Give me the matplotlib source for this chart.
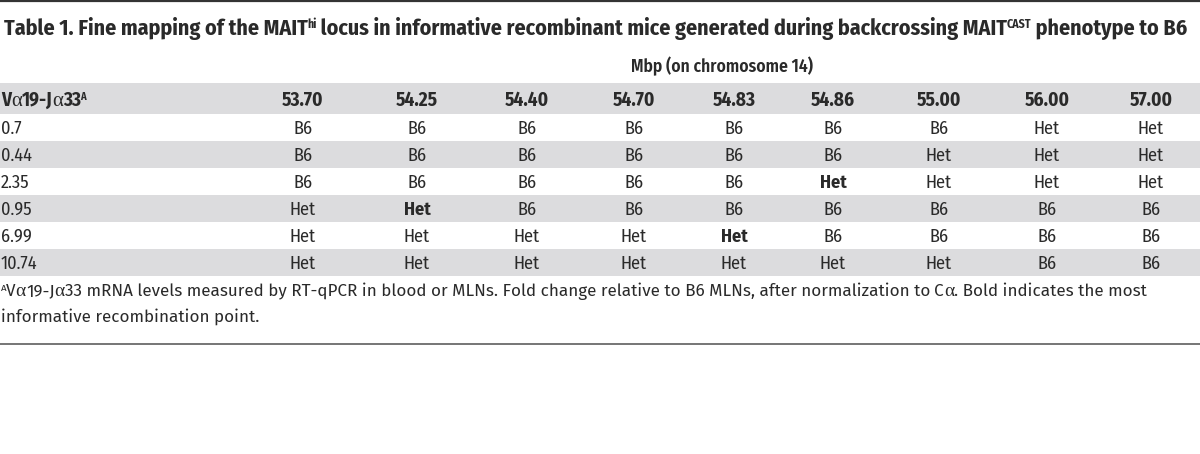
import matplotlib
matplotlib.use("Agg")
import matplotlib.pyplot as plt
from matplotlib.patches import Rectangle

# ---- data ----
positions = ["53.70", "54.25", "54.40", "54.70", "54.83", "54.86", "55.00", "56.00", "57.00"]
va_levels = ["0.7", "0.44", "2.35", "0.95", "6.99", "10.74"]
row_0_7 = ["B6", "B6", "B6", "B6", "B6", "B6", "B6", "Het", "Het"]
row_0_44 = ["B6", "B6", "B6", "B6", "B6", "B6", "Het", "Het", "Het"]
row_2_35 = ["B6", "B6", "B6", "B6", "B6", "Het", "Het", "Het", "Het"]
row_0_95 = ["Het", "Het", "B6", "B6", "B6", "B6", "B6", "B6", "B6"]
row_6_99 = ["Het", "Het", "Het", "Het", "Het", "B6", "B6", "B6", "B6"]
row_10_74 = ["Het", "Het", "Het", "Het", "Het", "Het", "Het", "B6", "B6"]
genotypes = [row_0_7, row_0_44, row_2_35, row_0_95, row_6_99, row_10_74]
bold_cells = [(2, 5), (3, 1), (4, 4)]

title_parts = ["Table 1. Fine mapping of the MAIT", "hi",
               " locus in informative recombinant mice generated during backcrossing MAIT", "CAST",
               " phenotype to B6"]
group_label = "Mbp (on chromosome 14)"
foot_line2 = "informative recombination point."

# ---- style ----
W, H = 1200, 454
TXT = "#2a2a2a"
BAND = "#dcdcde"
COND = "Fira Sans Condensed"
SANS = "Fira Sans"
SERIF = "Liberation Serif"

fig = plt.figure(figsize=(W / 100, H / 100), dpi=100)
ax = fig.add_axes([0, 0, 1, 1])
ax.set_xlim(0, W)
ax.set_ylim(H, 0)
ax.axis("off")
renderer = fig.canvas.get_renderer()


def runs(x, y, parts):
    """parts: list of (text, props dict, rise_px, extra_gap_px). Draw consecutively."""
    cx = x
    for s, props, rise, gap in parts:
        cx += gap
        t = ax.text(cx, y - rise, s, va="baseline", ha="left", color=TXT, **props)
        bb = t.get_window_extent(renderer=renderer)
        cx += bb.width


# rules
ax.plot([0, W], [1, 1], color="#333333", lw=1.6, solid_capstyle="butt")
ax.plot([0, W], [343.5, 343.5], color="#6a6a6a", lw=1.3, solid_capstyle="butt")

# title
tb = dict(family=COND, weight="bold", fontsize=15.8)
ts = dict(family=COND, weight="bold", fontsize=8.5)
runs(4, 35, [(title_parts[0], tb, 0, 0), (title_parts[1], ts, 7, -1), (title_parts[2], tb, 0, 0),
             (title_parts[3], ts, 7, -1), (title_parts[4], tb, 0, 0)])

# group label
ax.text(722, 72, group_label, family=COND, weight=600, fontsize=12.6,
        ha="center", va="baseline", color=TXT)

# bands
top = 83
hdr_h = 31
row_h = 27
ax.add_patch(Rectangle((0, top), W, hdr_h, facecolor=BAND, edgecolor="none"))
for i in range(len(va_levels)):
    if i % 2 == 1:
        ax.add_patch(Rectangle((0, top + hdr_h + i * row_h), W, row_h,
                               facecolor=BAND, edgecolor="none"))

col_x = [303, 417, 527, 634, 734, 833, 939, 1047, 1151]
hb = dict(family=COND, weight="bold", fontsize=13.8)
ha_ = dict(family=SERIF, weight="normal", fontsize=15)
hsup = dict(family=COND, weight="bold", fontsize=7.5)
y_hdr = 105.5
runs(1, y_hdr, [("V", hb, 0, 0), ("α", ha_, 0, 0), ("19-J", hb, 0, 0), ("α", ha_, 0, 0),
                ("33", hb, 0, 0), ("A", hsup, 6, -1.5)])
for cx, p in zip(col_x, positions):
    ax.text(cx, y_hdr, p, ha="center", va="baseline", color=TXT, **hb)

body = dict(family=COND, weight="normal", fontsize=13.2)
bodyb = dict(family=COND, weight="bold", fontsize=13.2)
for i, (lvl, row) in enumerate(zip(va_levels, genotypes)):
    yb = top + hdr_h + i * row_h + row_h / 2 + 6.5
    ax.text(1, yb, lvl, ha="left", va="baseline", color=TXT, **body)
    for j, (cx, g) in enumerate(zip(col_x, row)):
        props = bodyb if (i, j) in bold_cells else body
        ax.text(cx, yb, g, ha="center", va="baseline", color=TXT, **props)

# footnote
fn = dict(family=SANS, weight="normal", fontsize=12.3)
fa = dict(family=SERIF, weight="normal", fontsize=14)
fs = dict(family=SANS, weight="normal", fontsize=7)
runs(1, 296, [("A", fs, 5, 0), ("V", fn, 0, -0.5), ("α", fa, 0, 0), ("19-J", fn, 0, 0), ("α", fa, 0, 0),
              ("33 mRNA levels measured by RT-qPCR in blood or MLNs. Fold change relative to B6 MLNs, after normalization to", fn, 0, 0),
              ("C", fn, 0, 4), ("α", fa, 0, 0), (". Bold indicates the most", fn, 0, 0)])
ax.text(1, 322, foot_line2, ha="left", va="baseline", color=TXT, **fn)

fig.savefig("out.png", dpi=100)
